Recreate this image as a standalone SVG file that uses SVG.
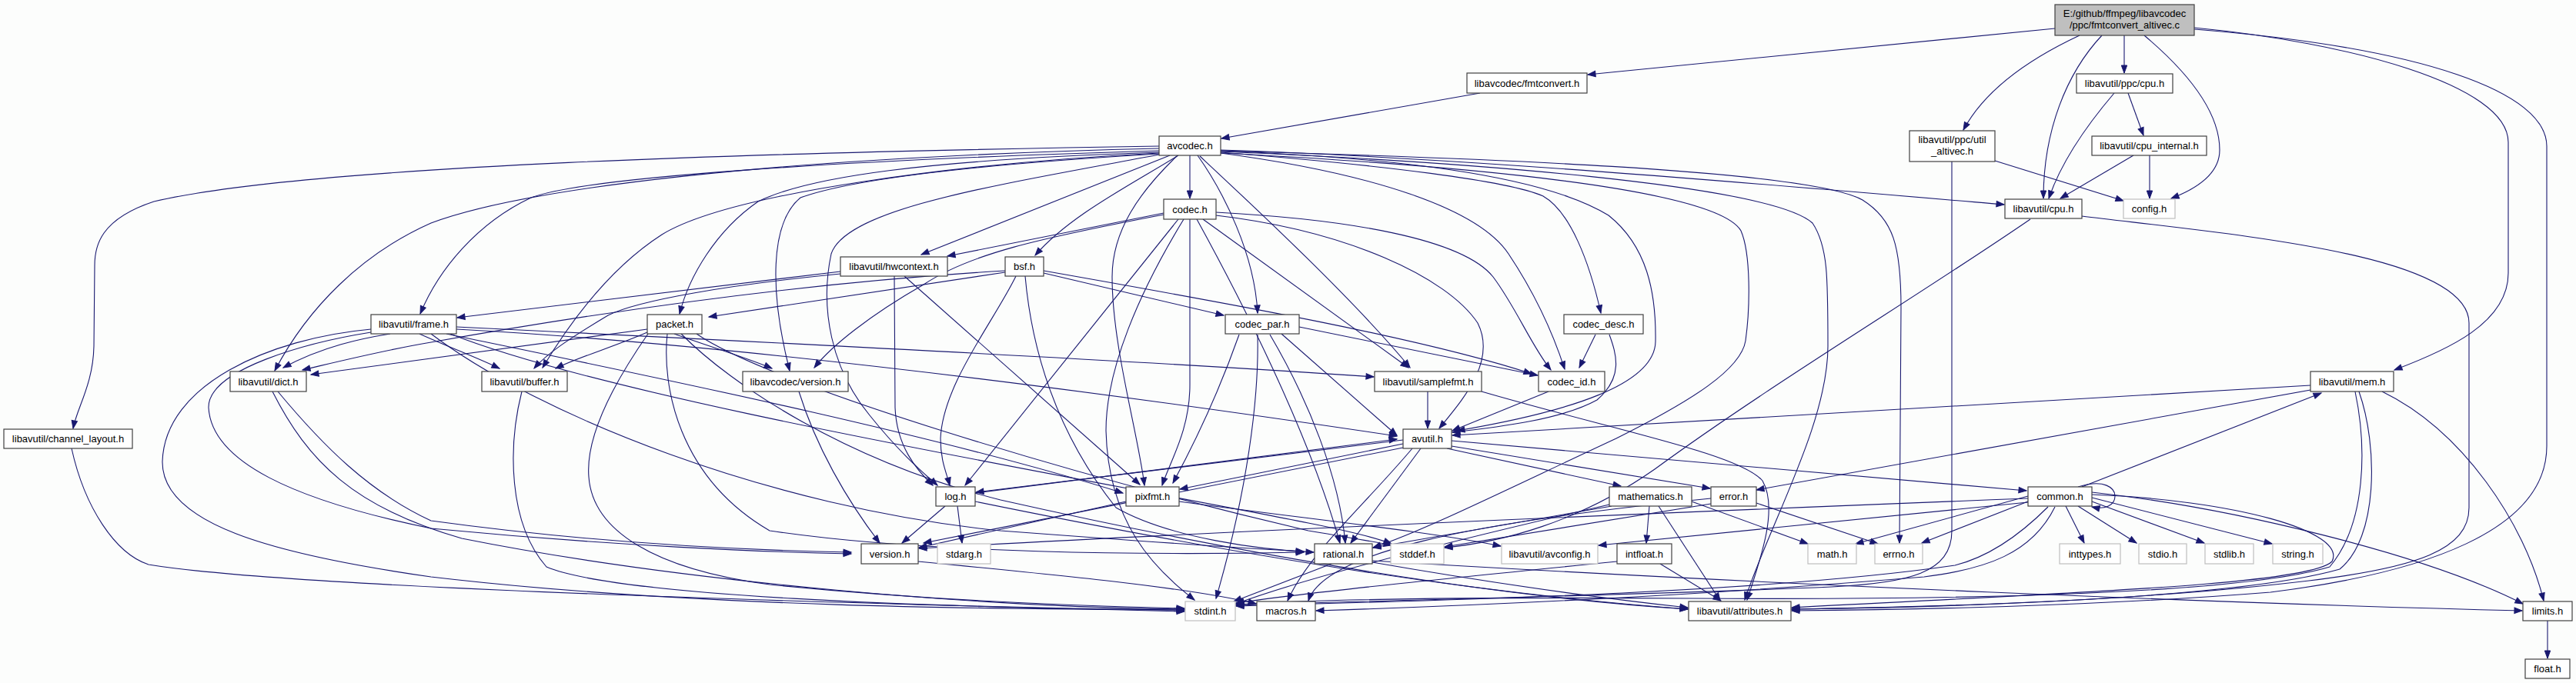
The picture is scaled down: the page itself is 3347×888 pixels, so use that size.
<svg xmlns="http://www.w3.org/2000/svg" width="3347" height="888" viewBox="0 0 3347 888">
<style>
.n rect{fill:#ffffff;stroke:#404040;stroke-width:1.2}
.g rect{fill:#ffffff;stroke:#bfbfbf;stroke-width:1.2}
.r rect{fill:#bfbfbf;stroke:#404040;stroke-width:1.2}
text{font-family:"Liberation Sans",Arial,sans-serif;font-size:13px;fill:#000;text-anchor:middle}
#edges path{fill:none;stroke:#191970;stroke-width:1.1;marker-end:url(#ah)}
</style>
<defs>
<marker id="ah" markerUnits="userSpaceOnUse" markerWidth="12" markerHeight="9" refX="10" refY="4" orient="auto" overflow="visible">
<path d="M0,0.3 L10,4 L0,7.7z" fill="#191970" stroke="#191970" stroke-width="1"/>
</marker>
</defs>
<rect x="0" y="0" width="3347" height="888" fill="#fcfdfc"/>
<g id="edges">
<path d="M2670,37 L2063,97"/>
<path d="M2702,46 C2640,75 2580,115 2551,169"/>
<path d="M2731,46 C2685,95 2655,170 2655,258"/>
<path d="M2760,46 L2760,95"/>
<path d="M2786,46 C2850,100 2884,150 2884,195 C2884,225 2855,245 2821,258"/>
<path d="M2851,36 C3050,55 3259,110 3259,185 L3259,355 C3259,420 3180,455 3111,481"/>
<path d="M2851,38 C3150,62 3309,120 3309,190 L3309,580 C3309,690 3150,745 2950,770 C2700,790 2450,793 2328,794"/>
<path d="M1923,121 L1587,180"/>
<path d="M2765,121 L2785,176"/>
<path d="M2747,121 C2718,155 2680,205 2662,258"/>
<path d="M2772,202 L2677,258"/>
<path d="M2793,202 L2793,258"/>
<path d="M2592,209 L2759,261"/>
<path d="M2536,210 L2536,690 C2536,745 2480,758 2380,763 C2100,775 1800,780 1606,787"/>
<path d="M2705,281 C2900,305 3208,330 3208,420 L3208,660 C3208,715 3140,738 3000,755 C2750,785 2450,790 2328,792"/>
<path d="M2638,285 C2500,380 2300,500 2150,610 C2050,680 1950,705 1877,712"/>
<path d="M1506,190 C1000,198 400,215 200,262 C130,285 123,320 123,345 L122,450 C121,500 100,530 95,557"/>
<path d="M1506,193 C1000,205 680,245 560,290 C470,330 400,400 357,482"/>
<path d="M1506,196 C1100,208 760,230 690,257 C620,290 570,350 546,408"/>
<path d="M1506,199 C1250,212 950,250 860,305 C790,350 740,420 705,478"/>
<path d="M1506,200 C1250,215 1100,235 1040,257 C1000,290 1000,380 1026,482"/>
<path d="M1506,198 C1200,208 1050,230 985,262 C930,300 895,360 883,408"/>
<path d="M1506,201 C1300,240 1100,270 1080,330 C1065,400 1080,480 1130,540 C1170,590 1200,615 1218,631"/>
<path d="M1530,202 C1480,250 1445,300 1445,360 C1445,450 1478,560 1487,631"/>
<path d="M1520,202 L1197,331"/>
<path d="M1531,202 C1470,240 1390,280 1345,332"/>
<path d="M1546,202 L1546,258"/>
<path d="M1556,202 C1590,250 1630,330 1634,407"/>
<path d="M1586,198 C1800,215 1960,235 2005,255 C2040,275 2065,340 2080,407"/>
<path d="M1586,199 C1780,225 1920,270 1960,330 C2000,390 2020,440 2033,480"/>
<path d="M1559,203 C1620,260 1760,390 1832,478"/>
<path d="M1586,196 C1800,205 2000,225 2090,280 C2140,320 2152,380 2151,444 C2150,500 2040,535 1893,560"/>
<path d="M1586,199 C1900,215 2230,245 2262,300 C2275,330 2274,400 2268,443 C2262,480 2200,520 2100,570 C1950,640 1850,690 1784,712"/>
<path d="M1586,197 C1900,210 2300,240 2355,290 C2375,320 2375,360 2375,450 C2375,550 2300,680 2267,780"/>
<path d="M1586,196 C1900,205 2350,220 2420,260 C2460,285 2470,320 2470,400 L2468,706"/>
<path d="M1586,195 C1900,205 2300,240 2604,266"/>
<path d="M1538,285 C1480,380 1437,480 1437,560 C1440,680 1500,740 1552,780"/>
<path d="M1580,280 C1750,300 1880,360 1920,420 C1945,470 1900,520 1870,557"/>
<path d="M1512,277 L1231,333"/>
<path d="M1531,285 L1254,631"/>
<path d="M1546,285 L1546,500 C1546,560 1520,600 1510,631"/>
<path d="M1555,285 C1610,385 1700,560 1741,706"/>
<path d="M1563,285 L1830,478"/>
<path d="M1580,276 C1750,285 1900,310 1940,360 C1970,400 1990,450 2015,481"/>
<path d="M1512,279 C1350,310 1260,330 1200,370 C1130,410 1080,450 1058,478"/>
<path d="M1092,356 C950,370 830,390 790,410 C740,440 710,460 694,479"/>
<path d="M1092,353 L594,413"/>
<path d="M1162,359 L1163,530 C1165,580 1190,610 1212,631"/>
<path d="M1175,359 L1481,630"/>
<path d="M1306,352 C1000,370 700,420 560,445 C500,455 440,470 393,481"/>
<path d="M1320,359 C1290,420 1225,500 1222,570 C1222,600 1230,615 1234,631"/>
<path d="M1332,359 C1340,450 1370,560 1450,660 C1520,700 1640,715 1707,718"/>
<path d="M1356,352 C1600,395 1850,440 1990,486"/>
<path d="M1356,355 L1590,410"/>
<path d="M1306,354 L921,412"/>
<path d="M1634,435 C1636,520 1620,640 1580,778"/>
<path d="M1665,434 L1815,566"/>
<path d="M1650,435 C1700,520 1740,620 1748,706"/>
<path d="M1610,435 C1580,520 1550,580 1524,628"/>
<path d="M1688,425 L1998,488"/>
<path d="M2091,435 C2100,460 2110,490 2075,520 C2030,545 1950,555 1887,562"/>
<path d="M2073,435 L2052,478"/>
<path d="M507,434 C470,440 420,450 368,478"/>
<path d="M545,434 C580,450 620,465 649,479"/>
<path d="M593,425 C900,440 1500,470 1785,490"/>
<path d="M593,428 C1000,450 1500,520 1815,567"/>
<path d="M580,434 C800,480 1200,560 1459,641"/>
<path d="M560,434 C700,540 1000,660 1300,690 C1500,705 1600,712 1694,717"/>
<path d="M585,434 C800,520 1400,620 1700,680 C1760,692 1790,700 1808,707"/>
<path d="M482,428 C350,440 214,500 211,600 C210,680 350,720 560,750 C900,790 1300,792 1539,793"/>
<path d="M482,432 C400,445 270,480 271,530 C275,600 380,650 560,687 C800,710 1000,718 1106,720"/>
<path d="M905,434 C1000,500 1400,620 1700,690 C1760,700 1790,705 1808,709"/>
<path d="M842,434 C810,480 760,560 765,620 C770,690 850,740 1000,760 C1200,780 1400,788 1539,791"/>
<path d="M885,434 C950,500 1100,600 1300,650 C1700,740 2000,780 2193,792"/>
<path d="M841,432 C800,450 750,465 722,479"/>
<path d="M841,428 L404,487"/>
<path d="M867,434 C860,500 880,620 1000,690 C1200,720 1500,722 1694,718"/>
<path d="M876,434 C920,450 970,465 1003,479"/>
<path d="M354,509 C400,600 460,660 600,700 C900,760 1300,790 1539,792"/>
<path d="M361,509 C420,580 480,640 560,677 C800,710 1000,716 1106,718"/>
<path d="M93,583 C110,660 150,720 193,734 C350,760 900,780 1539,795"/>
<path d="M678,509 C660,580 660,680 710,737 C800,775 1200,790 1539,793"/>
<path d="M1038,509 C1060,580 1100,650 1143,706"/>
<path d="M1855,509 L1855,557"/>
<path d="M1925,509 C2100,560 2260,590 2290,625 C2310,660 2290,720 2270,780"/>
<path d="M2012,509 L1887,560"/>
<path d="M3095,509 C3200,560 3280,680 3305,781"/>
<path d="M3060,509 C3075,580 3075,680 3027,737 C2900,775 2500,780 2200,778 C1900,776 1700,780 1606,786"/>
<path d="M3065,509 C3090,580 3090,700 3040,740 C2900,780 2500,790 2328,792"/>
<path d="M3002,507 L2282,637"/>
<path d="M3002,501 L1887,566"/>
<path d="M1886,573 L2633,638"/>
<path d="M1886,580 L2222,635"/>
<path d="M1846,583 L1755,706"/>
<path d="M1823,582 L1200,706"/>
<path d="M1835,583 C1770,660 1700,720 1673,781"/>
<path d="M1880,583 L2106,632"/>
<path d="M1823,572 L1268,640"/>
<path d="M1823,577 L1533,636"/>
<path d="M1244,658 L1250,706"/>
<path d="M1267,641 L1815,571"/>
<path d="M1267,652 C1600,720 1900,770 2193,792"/>
<path d="M1228,658 L1172,706"/>
<path d="M1532,652 C1700,675 1850,690 1950,710"/>
<path d="M1463,652 L1194,712"/>
<path d="M2091,656 C1900,700 1700,750 1606,785"/>
<path d="M2198,652 L2349,707"/>
<path d="M2155,658 L2235,781"/>
<path d="M2094,658 L1784,712"/>
<path d="M2143,658 L2139,706"/>
<path d="M2282,654 L2440,707"/>
<path d="M2223,655 L1877,711"/>
<path d="M2223,648 C1900,680 1720,720 1700,781"/>
<path d="M2640,650 L2497,706"/>
<path d="M2635,645 L2411,707"/>
<path d="M2684,658 L2708,706"/>
<path d="M2718,640 C2900,660 3150,720 3278,785"/>
<path d="M2700,658 L2776,706"/>
<path d="M2718,652 L2864,706"/>
<path d="M2718,647 L2952,707"/>
<path d="M2661,659 C2620,700 2580,725 2540,735 C2300,770 1900,780 1606,788"/>
<path d="M2718,643 C2900,650 3050,690 3030,730 C3000,760 2700,770 2328,790"/>
<path d="M2670,659 C2640,720 2580,740 2500,750 C2200,775 1900,788 1710,794"/>
<path d="M2635,648 C2200,665 1600,690 1194,713"/>
<path d="M2635,653 L2077,709"/>
<path d="M2700,633 C2735,622 2748,635 2748,645 C2748,657 2735,663 2718,659"/>
<path d="M2705,633 L3016,511"/>
<path d="M1730,733 L1603,782"/>
<path d="M1783,729 C2300,760 2900,785 3277,794"/>
<path d="M1783,731 C1950,760 2100,780 2193,790"/>
<path d="M2101,730 C1900,750 1700,770 1606,784"/>
<path d="M2157,733 L2236,781"/>
<path d="M1193,730 C1400,750 1550,765 1632,785"/>
<path d="M3310,807 L3310,856"/>
</g>
<g id="n_root" class="r"><rect x="2670" y="6" width="181" height="40"/><text x="2760.5" y="21.8">E:/github/ffmpeg/libavcodec</text><text x="2760.5" y="37.2">/ppc/fmtconvert_altivec.c</text></g>
<g id="n_fmtconvert" class="n"><rect x="1906" y="95" width="156" height="26"/><text x="1984" y="112.5">libavcodec/fmtconvert.h</text></g>
<g id="n_ppccpu" class="n"><rect x="2698" y="96" width="125" height="25"/><text x="2760.5" y="113">libavutil/ppc/cpu.h</text></g>
<g id="n_utilaltivec" class="n"><rect x="2481" y="170" width="111" height="40"/><text x="2536.5" y="186.2">libavutil/ppc/util</text><text x="2536.5" y="201.2">_altivec.h</text></g>
<g id="n_cpuinternal" class="n"><rect x="2718" y="177" width="149" height="25"/><text x="2792.5" y="194">libavutil/cpu_internal.h</text></g>
<g id="n_cpu" class="n"><rect x="2605" y="259" width="100" height="25"/><text x="2655" y="276">libavutil/cpu.h</text></g>
<g id="n_config" class="g"><rect x="2759" y="259" width="67" height="25"/><text x="2792.5" y="276">config.h</text></g>
<g id="n_avcodec" class="n"><rect x="1506" y="177" width="80" height="25"/><text x="1546" y="194">avcodec.h</text></g>
<g id="n_codec" class="n"><rect x="1512" y="259" width="68" height="26"/><text x="1546" y="276.5">codec.h</text></g>
<g id="n_hwcontext" class="n"><rect x="1092" y="334" width="139" height="25"/><text x="1161.5" y="351">libavutil/hwcontext.h</text></g>
<g id="n_bsf" class="n"><rect x="1306" y="334" width="50" height="25"/><text x="1331" y="351">bsf.h</text></g>
<g id="n_codecpar" class="n"><rect x="1592" y="409" width="96" height="25"/><text x="1640" y="426">codec_par.h</text></g>
<g id="n_codecdesc" class="n"><rect x="2032" y="409" width="103" height="25"/><text x="2083.5" y="426">codec_desc.h</text></g>
<g id="n_frame" class="n"><rect x="482" y="409" width="111" height="25"/><text x="537.5" y="426">libavutil/frame.h</text></g>
<g id="n_packet" class="n"><rect x="841" y="409" width="71" height="25"/><text x="876.5" y="426">packet.h</text></g>
<g id="n_dict" class="n"><rect x="299" y="483" width="99" height="26"/><text x="348.5" y="500.5">libavutil/dict.h</text></g>
<g id="n_channellayout" class="n"><rect x="5" y="558" width="167" height="25"/><text x="88.5" y="575">libavutil/channel_layout.h</text></g>
<g id="n_buffer" class="n"><rect x="626" y="483" width="111" height="26"/><text x="681.5" y="500.5">libavutil/buffer.h</text></g>
<g id="n_avcversion" class="n"><rect x="965" y="483" width="137" height="26"/><text x="1033.5" y="500.5">libavcodec/version.h</text></g>
<g id="n_samplefmt" class="n"><rect x="1786" y="483" width="139" height="26"/><text x="1855.5" y="500.5">libavutil/samplefmt.h</text></g>
<g id="n_codecid" class="n"><rect x="1999" y="483" width="86" height="26"/><text x="2042" y="500.5">codec_id.h</text></g>
<g id="n_mem" class="n"><rect x="3002" y="483" width="108" height="26"/><text x="3056" y="500.5">libavutil/mem.h</text></g>
<g id="n_avutil" class="n"><rect x="1823" y="558" width="63" height="25"/><text x="1854.5" y="575">avutil.h</text></g>
<g id="n_log" class="n"><rect x="1216" y="633" width="51" height="25"/><text x="1241.5" y="650">log.h</text></g>
<g id="n_pixfmt" class="n"><rect x="1463" y="633" width="69" height="25"/><text x="1497.5" y="650">pixfmt.h</text></g>
<g id="n_mathematics" class="n"><rect x="2091" y="633" width="107" height="25"/><text x="2144.5" y="650">mathematics.h</text></g>
<g id="n_error" class="n"><rect x="2223" y="633" width="59" height="25"/><text x="2252.5" y="650">error.h</text></g>
<g id="n_common" class="n"><rect x="2635" y="633" width="83" height="25"/><text x="2676.5" y="650">common.h</text></g>
<g id="n_version" class="n"><rect x="1119" y="707" width="74" height="26"/><text x="1156" y="724.5">version.h</text></g>
<g id="n_stdarg" class="g"><rect x="1218" y="707" width="69" height="26"/><text x="1252.5" y="724.5">stdarg.h</text></g>
<g id="n_rational" class="n"><rect x="1708" y="707" width="75" height="26"/><text x="1745.5" y="724.5">rational.h</text></g>
<g id="n_stddef" class="g"><rect x="1807" y="707" width="69" height="26"/><text x="1841.5" y="724.5">stddef.h</text></g>
<g id="n_avconfig" class="g"><rect x="1951" y="707" width="125" height="26"/><text x="2013.5" y="724.5">libavutil/avconfig.h</text></g>
<g id="n_intfloat" class="n"><rect x="2101" y="707" width="71" height="26"/><text x="2136.5" y="724.5">intfloat.h</text></g>
<g id="n_mathh" class="g"><rect x="2349" y="707" width="63" height="26"/><text x="2380.5" y="724.5">math.h</text></g>
<g id="n_errno" class="g"><rect x="2436" y="707" width="62" height="26"/><text x="2467" y="724.5">errno.h</text></g>
<g id="n_inttypes" class="g"><rect x="2676" y="707" width="79" height="26"/><text x="2715.5" y="724.5">inttypes.h</text></g>
<g id="n_stdio" class="g"><rect x="2779" y="707" width="62" height="26"/><text x="2810" y="724.5">stdio.h</text></g>
<g id="n_stdlib" class="g"><rect x="2865" y="707" width="63" height="26"/><text x="2896.5" y="724.5">stdlib.h</text></g>
<g id="n_string" class="g"><rect x="2953" y="707" width="65" height="26"/><text x="2985.5" y="724.5">string.h</text></g>
<g id="n_stdint" class="g"><rect x="1540" y="782" width="65" height="25"/><text x="1572.5" y="799">stdint.h</text></g>
<g id="n_macros" class="n"><rect x="1633" y="782" width="76" height="25"/><text x="1671" y="799">macros.h</text></g>
<g id="n_attributes" class="n"><rect x="2194" y="782" width="133" height="25"/><text x="2260.5" y="799">libavutil/attributes.h</text></g>
<g id="n_limits" class="n"><rect x="3278" y="782" width="64" height="25"/><text x="3310" y="799">limits.h</text></g>
<g id="n_float" class="n"><rect x="3281" y="857" width="58" height="25"/><text x="3310" y="874">float.h</text></g>
</svg>
